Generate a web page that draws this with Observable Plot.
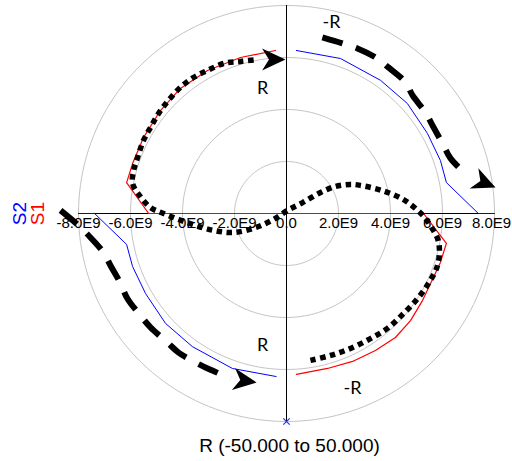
<!DOCTYPE html>
<html>
<head>
<meta charset="utf-8">
<script src="https://cdn.jsdelivr.net/npm/d3@7"></script>
<script src="https://cdn.jsdelivr.net/npm/@observablehq/plot@0.6"></script>
<style>
  html, body { margin: 0; padding: 0; background: #fff; }
</style>
</head>
<body>
<div id="chart"></div>
<script>
// Axis ticks (values in units of 1E9) and their printed labels
const tickValues = [-8, -6, -4, -2, 0, 2, 4, 6, 8];
const tickLabels = ["-8.0E9", "-6.0E9", "-4.0E9", "-2.0E9", "0.0", "2.0E9", "4.0E9", "6.0E9", "8.0E9"];
const ringRadii = [2, 4, 6, 8];

// S1 trace (red): upper-left arc, along the real axis, lower-right arc
const s1Points = [
  [-0.42, 6.27], [-1.77, 6.00], [-3.04, 5.50], [-4.08, 4.81], [-4.85, 3.96],
  [-5.50, 2.92], [-5.92, 1.92], [-6.15, 1.19], [-5.30, 0.00], [5.27, 0.00],
  [6.15, -1.15], [5.92, -1.88], [5.65, -2.46], [5.23, -3.35], [4.77, -4.12],
  [4.19, -4.77], [3.42, -5.27], [2.54, -5.69], [1.58, -5.96], [0.38, -6.19]
];

// S2 trace (blue): two pieces, upper-right and lower-left
const s2Upper = [
  [0.38, 6.27], [2.08, 5.96], [3.62, 5.12], [4.65, 4.23], [5.42, 3.08],
  [5.92, 2.04], [6.15, 1.19], [7.38, 0.00], [8.00, 0.00]
];
const s2Lower = [
  [-8.00, 0.00], [-7.38, 0.00], [-6.15, -1.19], [-5.92, -2.04], [-5.42, -3.08],
  [-4.65, -4.23], [-3.62, -5.12], [-2.08, -5.96], [-0.40, -6.27]
];

// Contour for R (dotted, ends with an arrow at the last point)
const rPath = [
  [0.92, -5.65], [1.69, -5.46], [2.46, -5.19], [3.23, -4.81], [3.88, -4.42],
  [4.50, -3.85], [5.04, -3.27], [5.46, -2.69], [5.81, -2.00], [5.88, -1.35],
  [5.81, -0.96], [5.58, -0.54], [5.31, -0.15], [4.92, 0.23], [4.42, 0.58],
  [3.69, 0.88], [2.85, 1.08], [2.46, 1.12], [1.88, 1.04], [1.31, 0.81],
  [0.62, 0.42], [0.04, 0.12], [-0.50, -0.23], [-1.19, -0.54], [-2.04, -0.73],
  [-2.81, -0.65], [-3.62, -0.42], [-4.73, 0.00], [-5.23, 0.23], [-5.65, 0.69],
  [-5.92, 1.15], [-5.88, 1.65], [-5.73, 2.15], [-5.50, 2.81], [-5.23, 3.31],
  [-4.92, 3.85], [-4.54, 4.35], [-4.08, 4.85], [-3.58, 5.23], [-3.04, 5.50],
  [-2.42, 5.77], [-1.77, 5.85], [-1.12, 5.92], [-0.04, 5.92]
];

// Contours for -R (dashed, each ends with an arrow at the last point)
const negRUpper = [
  [1.38, 6.77], [2.15, 6.54], [2.73, 6.35], [3.50, 5.96], [3.92, 5.62],
  [4.58, 5.04], [4.85, 4.54], [5.35, 3.88], [5.62, 3.38], [6.04, 2.62],
  [6.31, 2.12], [6.96, 1.46], [8.04, 1.00]
];
const negRLower = [
  [-8.69, 0.12], [-8.00, -0.46], [-7.54, -0.92], [-7.04, -1.50], [-6.77, -2.00],
  [-6.38, -2.69], [-6.12, -3.27], [-5.62, -3.92], [-5.23, -4.38], [-4.58, -4.96],
  [-4.15, -5.35], [-3.42, -5.77], [-2.85, -6.04], [-2.15, -6.35], [-1.15, -6.50]
];

// Contour annotations
const noteText = ["R", "R", "-R", "-R"];
const noteX = [-0.92, -0.92, 1.73, 2.54];
const noteY = [4.81, -5.08, 7.35, -6.73];

const caption = "R (-50.000 to 50.000)";
const legendNames = ["S2", "S1"];

// Concentric grid rings
const rings = ringRadii.flatMap(r =>
  d3.range(0, 361, 2).map(a => ({ring: r, x: r * Math.cos(a * Math.PI / 180), y: r * Math.sin(a * Math.PI / 180)}))
);

// Notched arrowhead with its tip at the origin, pointing along +x
const arrowHead = {
  draw(context, size) {
    const s = Math.sqrt(size / Math.PI) / 8;
    context.moveTo(0, 0);
    context.lineTo(-17 * s, -8 * s);
    context.lineTo(-12 * s, 0);
    context.lineTo(-17 * s, 8 * s);
    context.closePath();
  }
};

// Tip and heading of an arrow placed at the end of a path
function tipOf(path) {
  const [x1, y1] = path[path.length - 2];
  const [x2, y2] = path[path.length - 1];
  return {x: x2, y: y2, angle: -Math.atan2(y2 - y1, x2 - x1) * 180 / Math.PI};
}
const arrows = [rPath, negRUpper, negRLower].map(tipOf);

const xy = {x: d => d[0], y: d => d[1]};

const chart = Plot.plot({
  width: 512,
  height: 461,
  marginLeft: 78,
  marginRight: 18,
  marginTop: 5,
  marginBottom: 40,
  x: {domain: [-8, 8], axis: null},
  y: {domain: [-8, 8], axis: null},
  style: {fontFamily: "'Liberation Sans', Arial, sans-serif", background: "#fff", color: "#000"},
  marks: [
    Plot.line(rings, {x: "x", y: "y", z: "ring", stroke: "#c4c4c4", strokeWidth: 1}),
    Plot.ruleY([0], {x1: -8, x2: 8, stroke: "#000", strokeWidth: 1}),
    Plot.ruleX([0], {y1: -8, y2: 8, stroke: "#000", strokeWidth: 1}),
    Plot.dot([[0, -8]], {...xy, symbol: "times", r: 3, stroke: "#2233ff", strokeWidth: 1.2}),
    Plot.text(tickValues.slice(0, -1), {x: d => d, y: 0, text: (d, i) => tickLabels[i], dy: 10, fontSize: 15, lineAnchor: "middle", fill: "#000"}),
    Plot.text(tickValues.slice(-1), {x: d => d, y: 0, text: () => tickLabels[tickLabels.length - 1], dx: -3, dy: 10, fontSize: 15, lineAnchor: "middle", fill: "#000"}),
    Plot.line(s1Points, {...xy, stroke: "#ff0000", strokeWidth: 1.2}),
    Plot.line(s2Upper, {...xy, stroke: "#0000ff", strokeWidth: 1}),
    Plot.line(s2Lower, {...xy, stroke: "#0000ff", strokeWidth: 1}),
    Plot.line(rPath.slice(0, -1), {...xy, curve: "catmull-rom", stroke: "#000", strokeWidth: 5.5, strokeLinecap: "butt", strokeDasharray: "5.5,4.5"}),
    Plot.line(negRUpper.slice(0, -1), {...xy, curve: "catmull-rom", stroke: "#000", strokeWidth: 6, strokeLinecap: "butt", strokeDasharray: "21,14"}),
    Plot.line(negRLower.slice(0, -1), {...xy, curve: "catmull-rom", stroke: "#000", strokeWidth: 6, strokeLinecap: "butt", strokeDasharray: "21,14"}),
    Plot.dot(arrows, {x: "x", y: "y", rotate: "angle", symbol: arrowHead, r: 11, fill: "#000", stroke: "none"}),
    Plot.text(noteText, {x: (d, i) => noteX[i], y: (d, i) => noteY[i], text: d => d, fontSize: 18, fontFamily: "Lato, 'Open Sans', sans-serif", lineAnchor: "middle", fill: "#000"}),
    Plot.text([caption], {frameAnchor: "bottom", dx: 3, dy: 24, fontSize: 19, lineAnchor: "middle", textAnchor: "middle", fill: "#000"}),
    Plot.text([legendNames[0]], {frameAnchor: "left", dx: -59, rotate: -90, fontSize: 19, textAnchor: "middle", lineAnchor: "middle", fill: "#0000ff"}),
    Plot.text([legendNames[1]], {frameAnchor: "left", dx: -41, rotate: -90, fontSize: 19, textAnchor: "middle", lineAnchor: "middle", fill: "#ff0000"})
  ]
});
document.getElementById("chart").appendChild(chart);
</script>
</body>
</html>
